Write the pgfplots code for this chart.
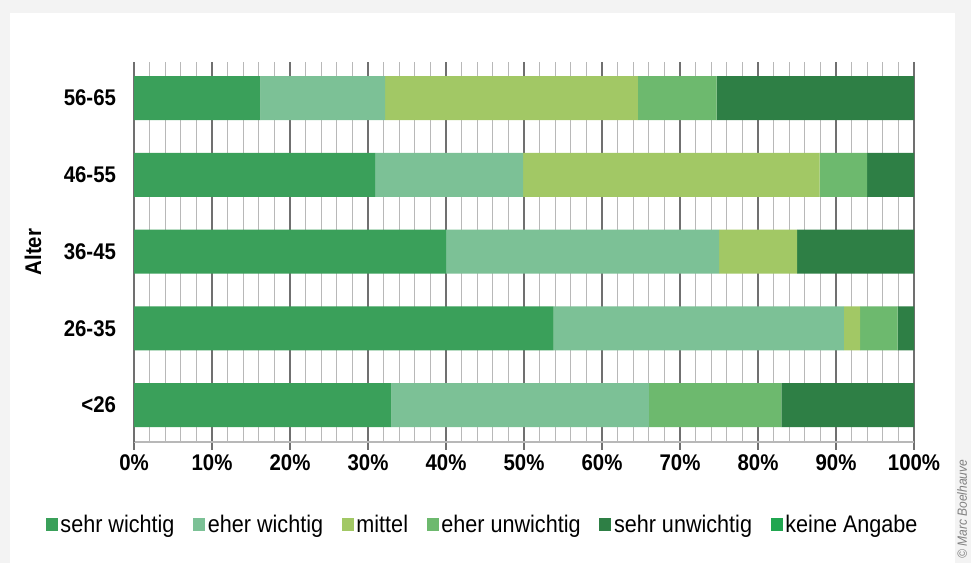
\documentclass[border=0pt]{standalone}
\usepackage{fontspec}
\setmainfont{Liberation Sans}[FakeStretch=0.9]
\usepackage{pgfplots}
\pgfplotsset{compat=1.18}
\definecolor{cSW}{HTML}{3AA05A}
\definecolor{cEW}{HTML}{7CC196}
\definecolor{cMI}{HTML}{A2C865}
\definecolor{cEU}{HTML}{6DB96E}
\definecolor{cSU}{HTML}{2E7F45}
\definecolor{cKA}{HTML}{21A650}
\definecolor{bgc}{HTML}{F3F3F3}
\definecolor{majg}{HTML}{707070}
\definecolor{ming}{HTML}{B8B8B8}
\begin{document}
\begin{tikzpicture}
\fill[bgc] (0,0) rectangle (728.25pt,422.25pt);
\fill[white] (7.5pt,0) rectangle (716.25pt,412.5pt);
\node[rotate=90, anchor=west, font=\itshape\fontsize{10}{11}\selectfont, text=gray, inner sep=0pt] at (721.5pt,3pt) {© Marc Boelhauve};
\begin{axis}[
  at={(100.5pt,90.75pt)}, anchor=south west,
  scale only axis, width=585pt, height=285pt,
  xbar stacked, bar width=33pt,
  xmin=0, xmax=100, ymin=-0.48, ymax=4.47,
  ytick={0,1,2,3,4},
  yticklabels={<26,26-35,36-45,46-55,56-65},
  xtick={0,10,...,100},
  xticklabel={\pgfmathprintnumber[assume math mode=true]{\tick}\%},
  minor x tick num=4,
  xmajorgrids, xminorgrids,
  major grid style={color=majg, line width=1.1pt},
  minor grid style={color=ming, line width=0.9pt},
  axis x line*=bottom, axis y line*=left,
  x axis line style={color=ming, line width=1pt, -},
  y axis line style={color=majg, line width=1.4pt, -},
  xtick style={color=majg, line width=1.1pt},
  major tick length=6pt,
  minor tick length=0pt,
  tick align=outside,
  ytick style={draw=none},
  tick label style={font=\bfseries\fontsize{17}{20}\selectfont},
  yticklabel style={xshift=-4pt},
  ylabel={Alter},
  every axis y label/.style={at={(axis description cs:-0.1295,0.5)}, rotate=90, anchor=center, font=\bfseries\fontsize{17}{20}\selectfont},
  legend columns=6,
  legend style={draw=none, fill=none, at={(axis description cs:0.5,0)}, anchor=center, xshift=-30.75pt, yshift=-62pt,
    font=\fontsize{18}{21}\selectfont,
    /tikz/every even column/.append style={column sep=12pt}},
  legend image code/.code={\fill[#1, draw=none] (0pt,-5pt) rectangle (9pt,5pt);},
  legend cell align=left,
]
\addplot[fill=cSW, draw=none] coordinates {(33,0) (53.8,1) (40,2) (30.9,3) (16.2,4)};
\addlegendentry{sehr wichtig}
\addplot[fill=cEW, draw=none] coordinates {(33,0) (37.2,1) (35,2) (19.0,3) (16.0,4)};
\addlegendentry{eher wichtig}
\addplot[fill=cMI, draw=none] coordinates {(0,0) (2.1,1) (10,2) (38.0,3) (32.4,4)};
\addlegendentry{mittel}
\addplot[fill=cEU, draw=none] coordinates {(17,0) (4.8,1) (0,2) (6.1,3) (10.1,4)};
\addlegendentry{eher unwichtig}
\addplot[fill=cSU, draw=none] coordinates {(17,0) (2.1,1) (15,2) (6.0,3) (25.3,4)};
\addlegendentry{sehr unwichtig}
\addplot[fill=cKA, draw=none] coordinates {(0,0) (0,1) (0,2) (0,3) (0,4)};
\addlegendentry{keine Angabe}
\end{axis}
\end{tikzpicture}
\end{document}
